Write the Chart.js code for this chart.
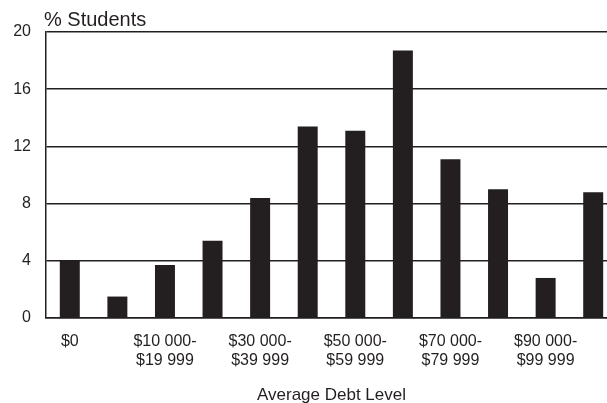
<!DOCTYPE html>
<html>
<head>
<meta charset="utf-8">
<script src="https://cdn.jsdelivr.net/npm/chart.js@4"></script>
<style>
  html, body { margin: 0; padding: 0; background: #fff; overflow: hidden; }
  #wrap { width: 620px; height: 403px; }
</style>
</head>
<body>
<div id="wrap"><canvas id="barChart" width="620" height="403"></canvas></div>
<script>
// debt brackets, only every other one gets a label on the axis
const debtLevels = [
  ['$0'], ['$1-', '$9 999'], ['$10 000-', '$19 999'], ['$20 000-', '$29 999'],
  ['$30 000-', '$39 999'], ['$40 000-', '$49 999'], ['$50 000-', '$59 999'],
  ['$60 000-', '$69 999'], ['$70 000-', '$79 999'], ['$80 000-', '$89 999'],
  ['$90 000-', '$99 999'], ['$100 000+']
];
const pctStudents = [4.0, 1.5, 3.7, 5.4, 8.4, 13.4, 13.1, 18.7, 11.1, 9.0, 2.8, 8.8];
const yTicks = [0, 4, 8, 12, 16, 20];

const ink = '#231f20';
const font = 'Arial, "Liberation Sans", sans-serif';

// y axis title sits above the plot, left aligned
const topTitle = {
  id: 'topTitle',
  afterDraw(chart) {
    const c = chart.ctx;
    c.save();
    c.fillStyle = ink;
    c.font = '20px ' + font;
    c.textAlign = 'left';
    c.textBaseline = 'alphabetic';
    c.fillText('% Students', chart.chartArea.left - 2, 26);
    c.restore();
  }
};

const ctx = document.getElementById('barChart').getContext('2d');
const barChart = new Chart(ctx, {
  type: 'bar',
  data: {
    labels: debtLevels,
    datasets: [{
      data: pctStudents,
      backgroundColor: ink,
      borderWidth: 0,
      barPercentage: 0.42,
      categoryPercentage: 1
    }]
  },
  options: {
    responsive: false,
    animation: false,
    layout: { padding: { left: 0, top: 32, right: 3, bottom: 0 } },
    plugins: {
      legend: { display: false },
      tooltip: { enabled: false }
    },
    scales: {
      x: {
        offset: true,
        grid: { display: false, drawTicks: false },
        border: { color: ink, width: 1.5 },
        ticks: {
          color: ink,
          font: { family: font, size: 16 },
          autoSkip: false,
          maxRotation: 0,
          padding: 14,
          callback: function (v, i) { return i % 2 === 0 ? debtLevels[i] : ''; }
        },
        title: {
          display: true,
          text: 'Average Debt Level',
          color: ink,
          font: { family: font, size: 17 },
          padding: { top: 0, bottom: -3 }
        },
        afterFit: function (s) { s.height = 85; }
      },
      y: {
        min: 0,
        max: 20,
        afterBuildTicks: function (s) { s.ticks = yTicks.map(v => ({ value: v })); },
        grid: { color: ink, lineWidth: 1.5, drawTicks: false },
        border: { color: ink, width: 1.5 },
        ticks: {
          color: ink,
          font: { family: font, size: 16 },
          padding: 15
        },
        afterFit: function (s) { s.width = 46; }
      }
    }
  },
  plugins: [topTitle]
});
</script>
</body>
</html>
